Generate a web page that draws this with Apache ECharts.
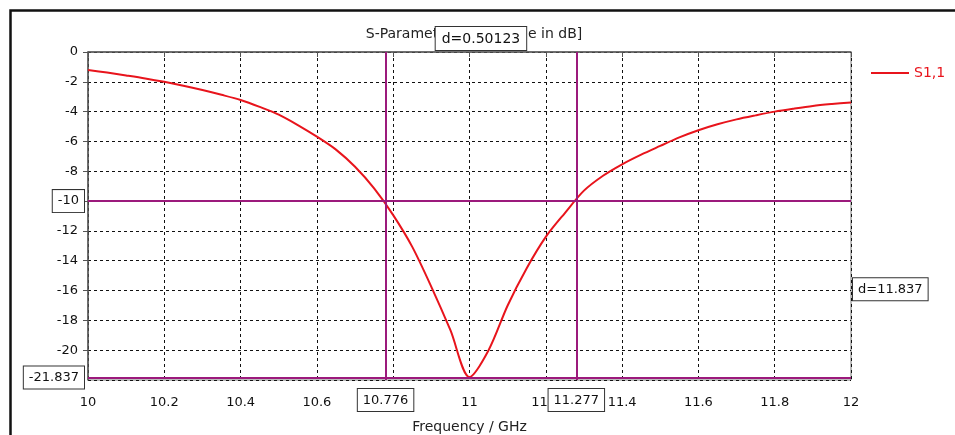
<!DOCTYPE html>
<html><head><meta charset="utf-8">
<script src="https://cdn.jsdelivr.net/npm/echarts@6/dist/echarts.min.js"></script>
<style>html,body{margin:0;padding:0;background:#fff}#c{width:955px;height:435px}</style>
</head><body><div id="c"></div>
<script>
const titleText = 'S-Parameter [Magnitude in dB]';
const xName = 'Frequency / GHz';
const seriesName = 'S1,1';
const freq = [10.0,10.05,10.1,10.15,10.2,10.25,10.3,10.35,10.4,10.45,10.5,10.55,10.6,10.65,10.7,10.75,10.8,10.85,10.9,10.95,11.0,11.05,11.1,11.15,11.2,11.25,11.3,11.35,11.4,11.45,11.5,11.55,11.6,11.65,11.7,11.75,11.8,11.85,11.9,11.95,12.0];
const s11  = [-1.21,-1.38,-1.57,-1.77,-2.0,-2.26,-2.55,-2.87,-3.22,-3.68,-4.2,-4.9,-5.68,-6.55,-7.7,-9.15,-10.94,-13.07,-15.75,-18.66,-21.8,-20.0,-17.0,-14.5,-12.4,-10.8,-9.3,-8.3,-7.53,-6.88,-6.3,-5.73,-5.25,-4.85,-4.52,-4.25,-4.0,-3.8,-3.62,-3.49,-3.38];
const markerX = [10.776, 11.277];
const markerXLabels = ['10.776', '11.277'];
const markerY = [-10, -21.837];
const markerYLabels = ['-10', '-21.837'];
const deltaLabels = ['d=0.50123', 'd=11.837'];

const F = '"DejaVu Sans", Verdana, sans-serif';
const PURPLE = '#9c1a7c';
const RED = '#e8141c';

function box(pos, dist, txt) {
  return {show:true, position:pos, distance:dist, formatter:txt, color:'#111', fontSize:13, fontFamily:F,
    backgroundColor:'#fff', borderColor:'#333', borderWidth:1, padding:[5,5,4,5]};
}

const mlData = [];
markerX.forEach((v,i)=>mlData.push({xAxis:v, label:box('start', 9, markerXLabels[i])}));
markerY.forEach((v,i)=>mlData.push({yAxis:v, label:box('start', 4, markerYLabels[i])}));
mlData.push({xAxis:(markerX[0]+markerX[1])/2, lineStyle:{color:'rgba(0,0,0,0)', width:0}, label:Object.assign(box('end', 2, deltaLabels[0]), {fontSize:14, padding:[5,6,4,6]})});
mlData.push({yAxis:(markerY[0]+markerY[1])/2, lineStyle:{color:'rgba(0,0,0,0)', width:0}, label:box('end', 2, deltaLabels[1])});

const chart = echarts.init(document.getElementById('c'), null, {renderer:'canvas'});
chart.setOption({
  animation:false,
  backgroundColor:'#fff',
  title:{text:titleText, left:469, top:22, textAlign:'center', z:0, zlevel:0,
    textStyle:{fontFamily:F, fontSize:14, fontWeight:'normal', color:'#222'}},
  legend:{data:[{name:seriesName, icon:'rect'}], left:866, top:61, itemWidth:38, itemHeight:2,
    itemStyle:{color:RED}, textStyle:{color:RED, fontFamily:F, fontSize:14}},
  grid:{left:88, right:104, top:52, bottom:55, show:true, borderColor:'#777', borderWidth:1,
    backgroundColor:'transparent', containLabel:false, outerBoundsMode:'none'},
  xAxis:{type:'value', min:10, max:12, interval:0.2,
    name:xName, nameLocation:'middle', nameGap:40,
    nameTextStyle:{fontFamily:F, fontSize:14, color:'#222'},
    axisLine:{lineStyle:{color:'#555', width:1.5}},
    axisTick:{show:true, length:5, lineStyle:{color:'#555'}},
    axisLabel:{margin:16, fontFamily:F, fontSize:13, color:'#111', formatter:v=>String(Number(v.toFixed(2)))},
    splitLine:{show:true, lineStyle:{color:'#111', type:[3,3], width:1}}},
  yAxis:{type:'value', min:-22, max:0, interval:2,
    axisLine:{show:true, lineStyle:{color:'#555', width:1.5}},
    axisTick:{show:true, length:5, lineStyle:{color:'#555'}},
    axisLabel:{margin:10, fontFamily:F, fontSize:13, color:'#111', showMinLabel:false},
    splitLine:{show:true, lineStyle:{color:'#111', type:[3,3], width:1}}},
  graphic:[{type:'polyline', silent:true, shape:{points:[[10.5,435],[10.5,10.5],[955,10.5]]},
    style:{stroke:'#111', lineWidth:2.5, fill:null}}],
  series:[{
    name:seriesName, type:'line', data:freq.map((f,i)=>[f, s11[i]]),
    smooth:0.3, symbol:'none', z:3,
    lineStyle:{color:RED, width:2}, itemStyle:{color:RED},
    markLine:{silent:true, symbol:['none','none'], animation:false, z:10,
      lineStyle:{color:PURPLE, width:2, type:'solid'},
      emphasis:{disabled:true},
      data:mlData}
  }]
});
</script></body></html>
